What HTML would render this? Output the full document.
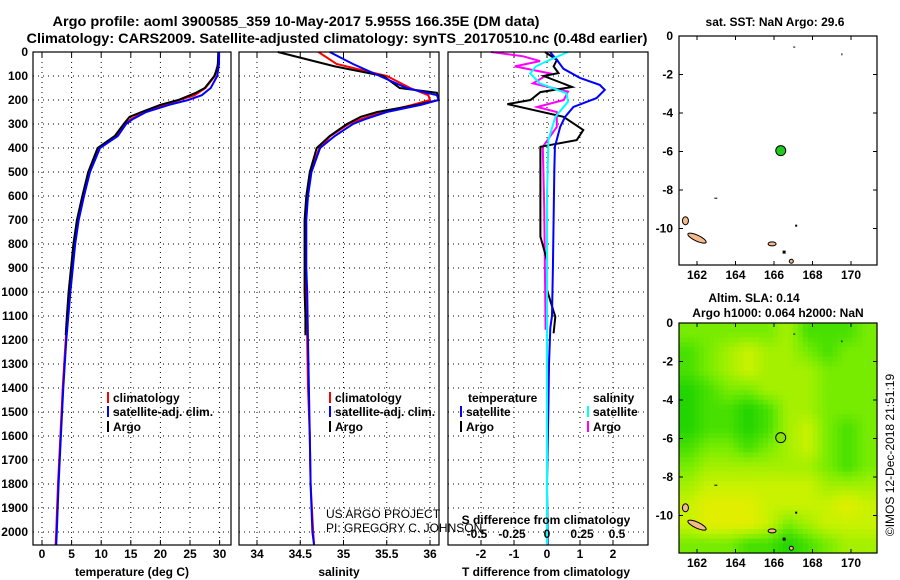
<!DOCTYPE html>
<html><head><meta charset="utf-8">
<style>
html,body{margin:0;padding:0;background:#fff;}
svg{display:block;font-family:"Liberation Sans",sans-serif;}
.b{font-weight:bold;font-size:12px;}
.r{font-size:12px;}
</style></head>
<body>
<svg id="chart" width="900" height="580" viewBox="0 0 900 580">
<text x="296" y="26" class="b" style="font-size:14px" text-anchor="middle" textLength="487" lengthAdjust="spacingAndGlyphs">Argo profile: aoml 3900585_359 10-May-2017 5.955S 166.35E (DM data)</text>
<text x="337" y="43" class="b" style="font-size:14px" text-anchor="middle" textLength="621" lengthAdjust="spacingAndGlyphs">Climatology: CARS2009. Satellite-adjusted climatology: synTS_20170510.nc (0.48d earlier)</text>
<g id="plots"></g>
</svg>
<script>
// ---------- data ----------
var depthTicks=[0,100,200,300,400,500,600,700,800,900,1000,1100,1200,1300,1400,1500,1600,1700,1800,1900,2000];
var tempTicks=[0,5,10,15,20,25,30];
var salTicks=[34,34.5,35,35.5,36];
var dTTicks=[-2,-1,0,1,2];
var dSTicks=[-0.5,-0.25,0,0.25,0.5];
var dSTickLabels=["-0.5","-0.25","0","0.25","0.5"];

var argoDepth=[0,60,100,150,170,200,220,250,270,300,350,400,500,600,700,800,900,1000,1100,1180];
var argoTemp=[29.8,29.7,29.1,27.5,26,23,20,16.8,14.8,13.8,12.3,9.4,7.8,6.8,5.9,5.3,4.9,4.5,4.2,4.0];
var argoSal=[34.24,34.9,35.46,35.65,36.08,36.1,35.85,35.39,35.2,35.04,34.84,34.69,34.61,34.57,34.55,34.55,34.55,34.55,34.56,34.56];

var climDepth=[0,50,100,150,180,200,220,250,280,300,350,400,500,600,700,800,900,1000,1200,1400,1600,1800,2000,2055];
var climTemp=[29.8,29.7,29.2,27.6,25.8,23.2,20.5,17.2,15,14,12.6,9.6,7.9,6.9,6.0,5.4,5.0,4.6,4.0,3.5,3.1,2.7,2.4,2.3];
var climSal=[34.71,34.92,35.5,35.77,35.98,36.0,35.8,35.46,35.2,35.06,34.85,34.72,34.62,34.58,34.56,34.56,34.56,34.57,34.58,34.59,34.61,34.62,34.65,34.66];

var satTemp=[29.9,29.9,29.6,28.5,27.0,24.7,21.5,17.6,15.3,14.2,12.8,9.8,8.1,7.1,6.2,5.6,5.2,4.8,4.1,3.6,3.2,2.8,2.5,2.4];
var satSal=[34.84,35.11,35.42,35.73,36.08,36.1,35.9,35.5,35.25,35.11,34.9,34.73,34.63,34.59,34.57,34.57,34.57,34.58,34.59,34.6,34.61,34.62,34.64,34.66];

var dDepthT=[0,33,70,108,137,158,192,229,270,312,395,500,700,900,1100,1150,1300,1500,1800,2055];
var dTsat=[0.09,0.3,0.5,1.0,1.6,1.75,1.5,0.8,0.55,0.4,0.24,0.22,0.2,0.18,0.15,0.1,0.06,0.04,0.0,0.02];
var dDepthA=[0,33,60,88,100,146,167,200,217,270,325,367,395,506,631,769,867,992,1103,1172];
var dTargo=[-0.06,0.3,0.2,0.35,-0.1,0.76,-0.2,-0.5,-1.2,0.5,1.1,0.9,-0.2,-0.2,-0.2,-0.2,0.0,0.0,0.25,0.2];
var dDepthS=[0,33,60,89,131,172,207,270,367,600,1000,1500,2055];
var dSsat=[0.15,0.02,-0.08,-0.12,-0.05,0.14,0.15,0.06,0.01,0.0,0.0,0.0,0.0];
var dDepthSA=[0,18,38,60,89,131,165,200,229,250,312,395,645,1158];
var dSargo=[-0.4,-0.17,-0.05,-0.23,0.02,-0.1,0.15,0.12,-0.07,0.07,0.07,-0.03,-0.02,-0.01];

var lonTicks=[162,164,166,168,170];
var latTicks=[0,-2,-4,-6,-8,-10];
var floatLon=[166.35], floatLat=[-5.955];
var slaGrid=[
[2,2,2,2,2,3,1,1,1,2],
[1,2,3,4,3,3,2,1,2,2],
[1,2,3,4,3,3,3,2,2,2],
[0,1,2,2,3,3,3,2,2,2],
[0,1,1,0,1,3,3,2,2,2],
[0,1,1,0,1,3,4,2,1,2],
[1,2,2,1,2,3,4,2,1,2],
[2,3,3,3,3,3,3,2,1,2],
[3,4,4,4,4,4,4,3,3,3],
[4,5,5,5,4,4,4,4,5,4],
[4,5,5,5,4,2,3,4,4,4],
[2,2,2,1,1,0,1,2,3,3]];
var slaColors=[[34,212,0],[72,224,0],[120,236,0],[164,240,0],[200,242,0],[226,238,0]];

// ---------- helpers ----------
var NS="http://www.w3.org/2000/svg";
var root=document.getElementById('plots');
function mk(tag,attrs,parent){var e=document.createElementNS(NS,tag);for(var k in attrs)e.setAttribute(k,attrs[k]);(parent||root).appendChild(e);return e;}
function txt(x,y,s,anchor,parent,cls){var t=mk('text',{x:x,y:y,'text-anchor':anchor||'middle','class':cls||'b'},parent);t.textContent=s;return t;}

var Y0=52,YB=545;
function yD(d){return Y0+d*0.24;}
var panels=[
 {x0:33,x1:231,name:'temperature-panel',sx:function(v){return 42+v*5.92;}},
 {x0:239,x1:439,name:'salinity-panel',sx:function(v){return 257+(v-34)*86.5;}},
 {x0:448,x1:648,name:'difference-panel',sx:function(v){return 547+v*33;}}
];
function sxS(v){return 547+v*140;}

function frame(p,ticks){
  var g=mk('g',{});
  
  
  depthTicks.forEach(function(d){
    var l=mk('line',{x1:p.x0,x2:p.x1,y1:yD(d),y2:yD(d),stroke:'#000','stroke-dasharray':'1,4','stroke-width':1},g);
    
    
  });
  ticks.forEach(function(v){
    var x=p.sx(v);
    var l=mk('line',{x1:x,x2:x,y1:Y0,y2:YB,stroke:'#000','stroke-dasharray':'1,4','stroke-width':1},g);
    
    
    mk('line',{x1:x,x2:x,y1:YB,y2:YB-5,stroke:'#000'},g);
    mk('line',{x1:x,x2:x,y1:Y0,y2:Y0+5,stroke:'#000'},g);
  });
  return g;
}
function poly(g,xs,ds,sx,color,name,w){
  var pts=xs.map(function(v,i){return sx(v).toFixed(1)+','+yD(ds[i]).toFixed(1);}).join(' ');
  var e=mk('polyline',{points:pts,fill:'none',stroke:color,'stroke-width':w||2},g);
  
  
}
function box(p,g){
  var r=mk('rect',{x:p.x0,y:Y0,width:p.x1-p.x0,height:YB-Y0,fill:'none',stroke:'#000','stroke-width':1.2},g);
  
  
}

depthTicks.forEach(function(d){
  var t=txt(28,yD(d)+4,String(d),'end');
  
  
});

// Panel 1 temperature
var g1=frame(panels[0],tempTicks);
poly(g1,climTemp,climDepth,panels[0].sx,'#f00','climatology-temp-line');
poly(g1,argoTemp,argoDepth,panels[0].sx,'#000','argo-temp-line');
poly(g1,satTemp,climDepth,panels[0].sx,'#00f','satellite-temp-line');
box(panels[0],g1);
tempTicks.forEach(function(v){var t=txt(panels[0].sx(v),558,String(v));});
var a1=txt(132,576,'temperature (deg C)');

// Panel 2 salinity
var g2=frame(panels[1],salTicks);
poly(g2,climSal,climDepth,panels[1].sx,'#f00','climatology-salinity-line');
poly(g2,argoSal,argoDepth,panels[1].sx,'#000','argo-salinity-line');
poly(g2,satSal,climDepth,panels[1].sx,'#00f','satellite-salinity-line');
box(panels[1],g2);
salTicks.forEach(function(v){var t=txt(panels[1].sx(v),558,String(v));});
var a2=txt(339,576,'salinity');

// Panel 3 differences
var g3=frame(panels[2],dTTicks);
poly(g3,dSargo,dDepthSA,sxS,'#f0f','argo-salinity-difference-line');
poly(g3,dTargo,dDepthA,panels[2].sx,'#000','argo-temp-difference-line');
poly(g3,dTsat,dDepthT,panels[2].sx,'#00f','satellite-temp-difference-line');
poly(g3,dSsat,dDepthS,sxS,'#0ff','satellite-salinity-difference-line');
box(panels[2],g3);
dTTicks.forEach(function(v){var t=txt(panels[2].sx(v),558,String(v));});
dSTicks.forEach(function(v,i){var t=txt(sxS(v),538,dSTickLabels[i]);});
var a3=txt(546,576,'T difference from climatology');
var a4=txt(546,524,'S difference from climatology');

var c1=txt(326,518,'US ARGO PROJECT','start',null,'r');
var c2=txt(326,532,'PI: GREGORY C. JOHNSON','start',null,'r');

function legItem(x,y,color,label,name){
  var g=mk('g',{});
  
  
  mk('line',{x1:x,x2:x,y1:y-10,y2:y+1,stroke:color,'stroke-width':2},g);
  txt(x+5,y,label,'start',g);
}
legItem(108,402,'#f00','climatology','legend-entry-climatology');
legItem(108,416,'#00f','satellite-adj. clim.','legend-entry-satellite-adj');
legItem(108,431,'#000','Argo','legend-entry-argo');
legItem(330,402,'#f00','climatology','legend-entry-climatology-sal');
legItem(330,416,'#00f','satellite-adj. clim.','legend-entry-satellite-adj-sal');
legItem(330,431,'#000','Argo','legend-entry-argo-sal');
var lt=txt(468,402,'temperature','start');
var ls=txt(593,402,'salinity','start');
legItem(461,416,'#00f','satellite','legend-entry-temp-satellite');
legItem(461,431,'#000','Argo','legend-entry-temp-argo');
legItem(588,416,'#0ff','satellite','legend-entry-sal-satellite');
legItem(588,431,'#f0f','Argo','legend-entry-sal-argo');

// ---------- maps ----------
function colorAt(v){
  var i=Math.min(Math.floor(v),slaColors.length-2),f=v-i;
  var a=slaColors[i],b=slaColors[i+1];
  return 'rgb('+[0,1,2].map(function(k){return Math.round(a[k]+(b[k]-a[k])*f);}).join(',')+')';
}
function mapAxes(top,bot,title1,title2,name,withGrid){
  var X0=679,X1=877;
  var lx=function(v){return 697+(v-162)*19.25;};
  var ly=function(v){return top+(-v)*19.25;};
  var g=mk('g',{});
  
  
  if(withGrid){
    var rows=slaGrid.length,cols=slaGrid[0].length,S=4;
    var cw=(X1-X0)/(cols*S),ch=(bot-top)/(rows*S);
    for(var r=0;r<rows*S;r++){for(var c=0;c<cols*S;c++){
      var fr=Math.max(0,Math.min(rows-1,(r+0.5)/S-0.5)),fc=Math.max(0,Math.min(cols-1,(c+0.5)/S-0.5));
      var r0=Math.floor(fr),c0=Math.floor(fc),r1=Math.min(rows-1,r0+1),c1=Math.min(cols-1,c0+1);
      var ar=fr-r0,ac=fc-c0;
      var v=(slaGrid[r0][c0]*(1-ac)+slaGrid[r0][c1]*ac)*(1-ar)+(slaGrid[r1][c0]*(1-ac)+slaGrid[r1][c1]*ac)*ar;
      mk('rect',{x:(X0+c*cw).toFixed(2),y:(top+r*ch).toFixed(2),width:(cw+0.6).toFixed(2),height:(ch+0.6).toFixed(2),fill:colorAt(v)},g);
    }}
  }
  mk('ellipse',{cx:lx(162),cy:ly(-10.5),rx:10,ry:3,fill:'#f5b98a',stroke:'#000','stroke-width':1,transform:'rotate(25 '+lx(162)+' '+ly(-10.5)+')'},g);
  mk('ellipse',{cx:lx(161.4),cy:ly(-9.6),rx:3,ry:4,fill:'#f5b98a',stroke:'#000','stroke-width':1},g);
  mk('ellipse',{cx:lx(165.9),cy:ly(-10.8),rx:4,ry:2,fill:'#f5b98a',stroke:'#000','stroke-width':1},g);
  mk('rect',{x:lx(166.5)-1,y:ly(-11.2)-1,width:3,height:3,fill:'#000'},g);
  mk('circle',{cx:lx(166.9),cy:ly(-11.7),r:2,fill:'#f5b98a',stroke:'#000'},g);
  mk('rect',{x:lx(162.9),y:ly(-8.4),width:3,height:1,fill:'#000'},g);
  mk('rect',{x:lx(167.1),y:ly(-9.8),width:2,height:2,fill:'#000'},g);
  mk('rect',{x:lx(167),y:ly(-0.55),width:2,height:1,fill:'#000'},g);
  mk('rect',{x:lx(169.5),y:ly(-0.9),width:1,height:2,fill:'#000'},g);
  floatLon.forEach(function(lo,i){
    var c=mk('circle',{cx:lx(lo),cy:ly(floatLat[i]),r:5,fill:withGrid?'#88e400':'#22c822',stroke:'#000','stroke-width':1},g);
    
    
  });
  var fr2=mk('rect',{x:X0,y:top,width:X1-X0,height:bot-top,fill:'none',stroke:'#000','stroke-width':1.2},g);
  
  
  lonTicks.forEach(function(v){
    mk('line',{x1:lx(v),x2:lx(v),y1:bot,y2:bot-4,stroke:'#000'},g);
    mk('line',{x1:lx(v),x2:lx(v),y1:top,y2:top+4,stroke:'#000'},g);
    var t=txt(lx(v),bot+14,String(v),'middle',g);
    
    
  });
  latTicks.forEach(function(v){
    mk('line',{x1:X0,x2:X0+4,y1:ly(v),y2:ly(v),stroke:'#000'},g);
    mk('line',{x1:X1,x2:X1-4,y1:ly(v),y2:ly(v),stroke:'#000'},g);
    var t=txt(673,ly(v)+4,String(v),'end',g);
    
    
  });
  var t1=txt(title2?754:775,top-(title2?21:10),title1,'middle',g);
  
  
  if(title2){
    var t2=txt(778,top-6,title2,'middle',g);
    
    
  }
}
mapAxes(36,265,'sat. SST: NaN Argo: 29.6',null,'sst-map',false);
mapAxes(323,553,'Altim. SLA: 0.14','Argo h1000: 0.064 h2000: NaN','sla-map',true);

var im=mk('text',{x:0,y:0,'font-size':'12',transform:'translate(894,455) rotate(-90)','text-anchor':'middle'});
im.textContent='\u00A9IMOS 12-Dec-2018 21:51:19';


</script>
</body></html>
